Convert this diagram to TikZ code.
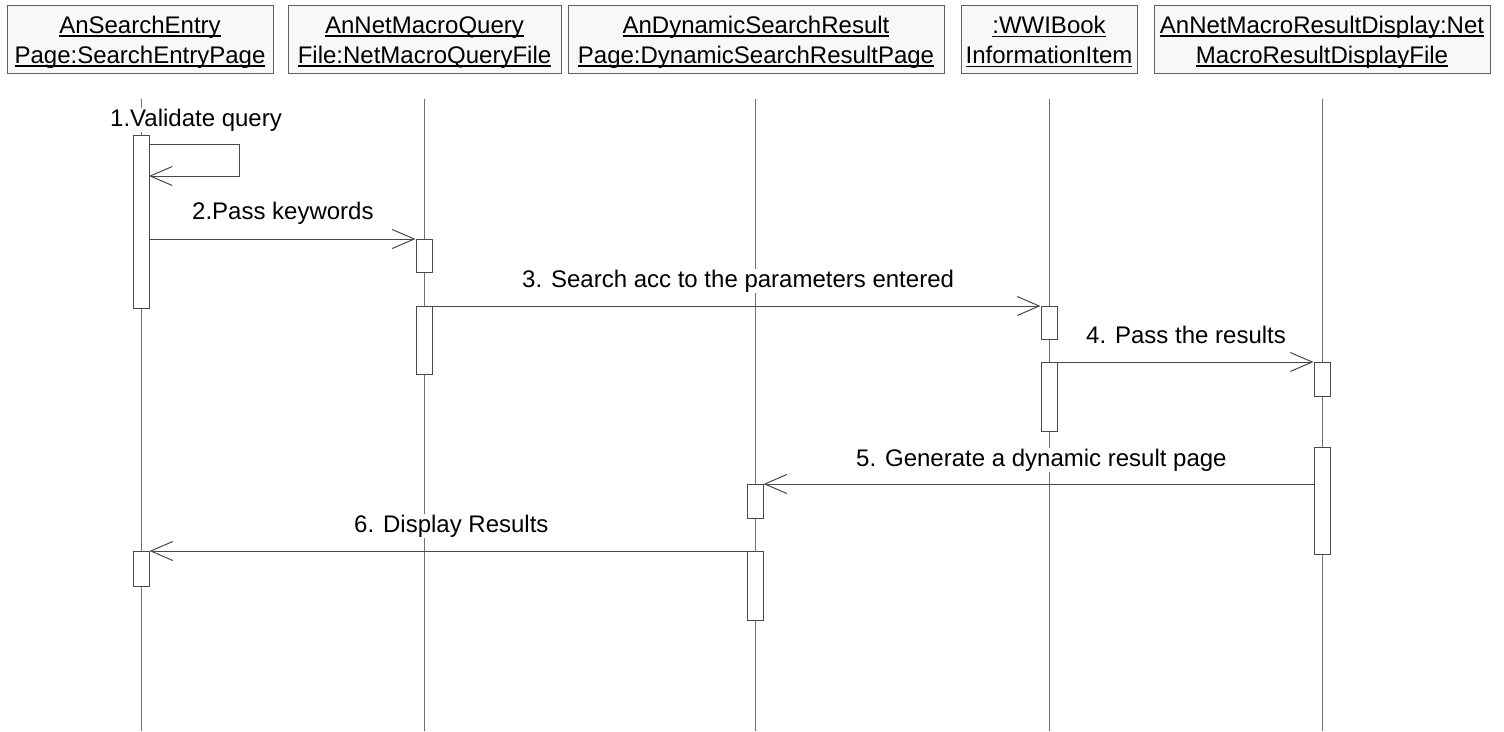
\documentclass[tikz,border=0pt]{standalone}
\usepackage{fontspec}
\setmainfont{Liberation Sans}
\usetikzlibrary{arrows.meta}
\definecolor{boxfill}{HTML}{F8F8F8}
\definecolor{boxline}{HTML}{606060}
\definecolor{lifecol}{HTML}{707070}
\definecolor{msgcol}{HTML}{484848}
\newcommand\ulx[1]{\setbox0\hbox{#1}\rlap{\rule[-3.5pt]{\wd0}{1.4pt}}\box0}
\newcommand\hstrut{\rule{0pt}{23pt}}
\begin{document}
\begin{tikzpicture}[x=1pt,y=-1pt,
  hdr/.style={draw=boxline, fill=boxfill, line width=1pt, minimum height=68pt,
    inner sep=0pt, align=center, font=\fontsize{24}{30}\selectfont},
  actbar/.style={draw=msgcol, fill=white, line width=1pt, minimum width=16pt,
    inner sep=0pt, anchor=north},
  life/.style={draw=lifecol, line width=1pt},
  msg/.style={draw=msgcol, line width=1pt,
    -{Straight Barb[length=22pt,width=19pt,line width=1pt]}},
  lbl/.style={fill=white, inner sep=1pt, anchor=base west,
    font=\fontsize{24}{28}\selectfont}]
\useasboundingbox (0,0) rectangle (1504,731);
\fill[white] (0,0) rectangle (1504,731);

% header boxes
\node[hdr, minimum width=266pt] (h1) at (140,39)
  {\hstrut\ulx{AnSearchEntry}\\\ulx{Page:SearchEntryPage}};
\node[hdr, minimum width=273pt] (h2) at (424.5,39)
  {\hstrut\ulx{AnNetMacroQuery}\\\ulx{File:NetMacroQueryFile}};
\node[hdr, minimum width=376pt] (h3) at (756,39)
  {\hstrut\ulx{AnDynamicSearchResult}\\\ulx{Page:DynamicSearchResultPage}};
\node[hdr, minimum width=176pt] (h4) at (1049,39)
  {\hstrut\ulx{:WWIBook}\\\ulx{InformationItem}};
\node[hdr, minimum width=336pt] (h5) at (1322,39)
  {\hstrut\ulx{AnNetMacroResultDisplay:Net}\\\ulx{MacroResultDisplayFile}};

% lifelines
\foreach \i/\x in {1/141,2/424,3/755,4/1049,5/1322}{
  \coordinate (t\i) at (\x,99);
  \coordinate (e\i) at (\x,731);
}
\draw[life] (t1) -- (e1);
\draw[life] (t2) -- (e2);
\draw[life] (t3) -- (e3);
\draw[life] (t4) -- (e4);
\draw[life] (t5) -- (e5);

% activation bars
\node[actbar, minimum height=173pt] (b1)  at (141,135) {};
\node[actbar, minimum height=33pt]  (b2a) at (424,239) {};
\node[actbar, minimum height=68pt]  (b2b) at (424,306) {};
\node[actbar, minimum height=33pt]  (b4a) at (1049,306) {};
\node[actbar, minimum height=69pt]  (b4b) at (1049,362) {};
\node[actbar, minimum height=34pt]  (b5a) at (1322,362) {};
\node[actbar, minimum height=107pt] (b5b) at (1322,447) {};
\node[actbar, minimum height=34pt]  (b3a) at (755,484) {};
\node[actbar, minimum height=69pt]  (b3b) at (755,551) {};
\node[actbar, minimum height=35pt]  (b1b) at (141,551) {};

% messages
\coordinate (s0) at (149,144);
\coordinate (s1) at (239,144);
\coordinate (s2) at (239,176);
\coordinate (s3) at (149,176);
\draw[msg] (s0) -- (s1) -- (s2) -- (s3);
\draw[msg] (b1.east |- b2a.north) -- (b2a.north west);
\draw[msg] (b2b.north east) -- (b4a.north west);
\draw[msg] (b4b.north east) -- (b5a.north west);
\draw[msg] (b5b.west |- b3a.north) -- (b3a.north east);
\draw[msg] (b3b.north west) -- (b1b.north east);

% labels
\node[lbl] (m1) at (109,126) {1.Validate query};
\node[lbl] (m2) at (191,219) {2.Pass keywords};
\node[lbl] (m3) at (521,287) {3. Search acc to the parameters entered};
\node[lbl] (m4) at (1085,343) {4. Pass the results};
\node[lbl] (m5) at (855,466) {5. Generate a dynamic result page};
\node[lbl] (m6) at (353,532) {6. Display Results};
\end{tikzpicture}
\end{document}
